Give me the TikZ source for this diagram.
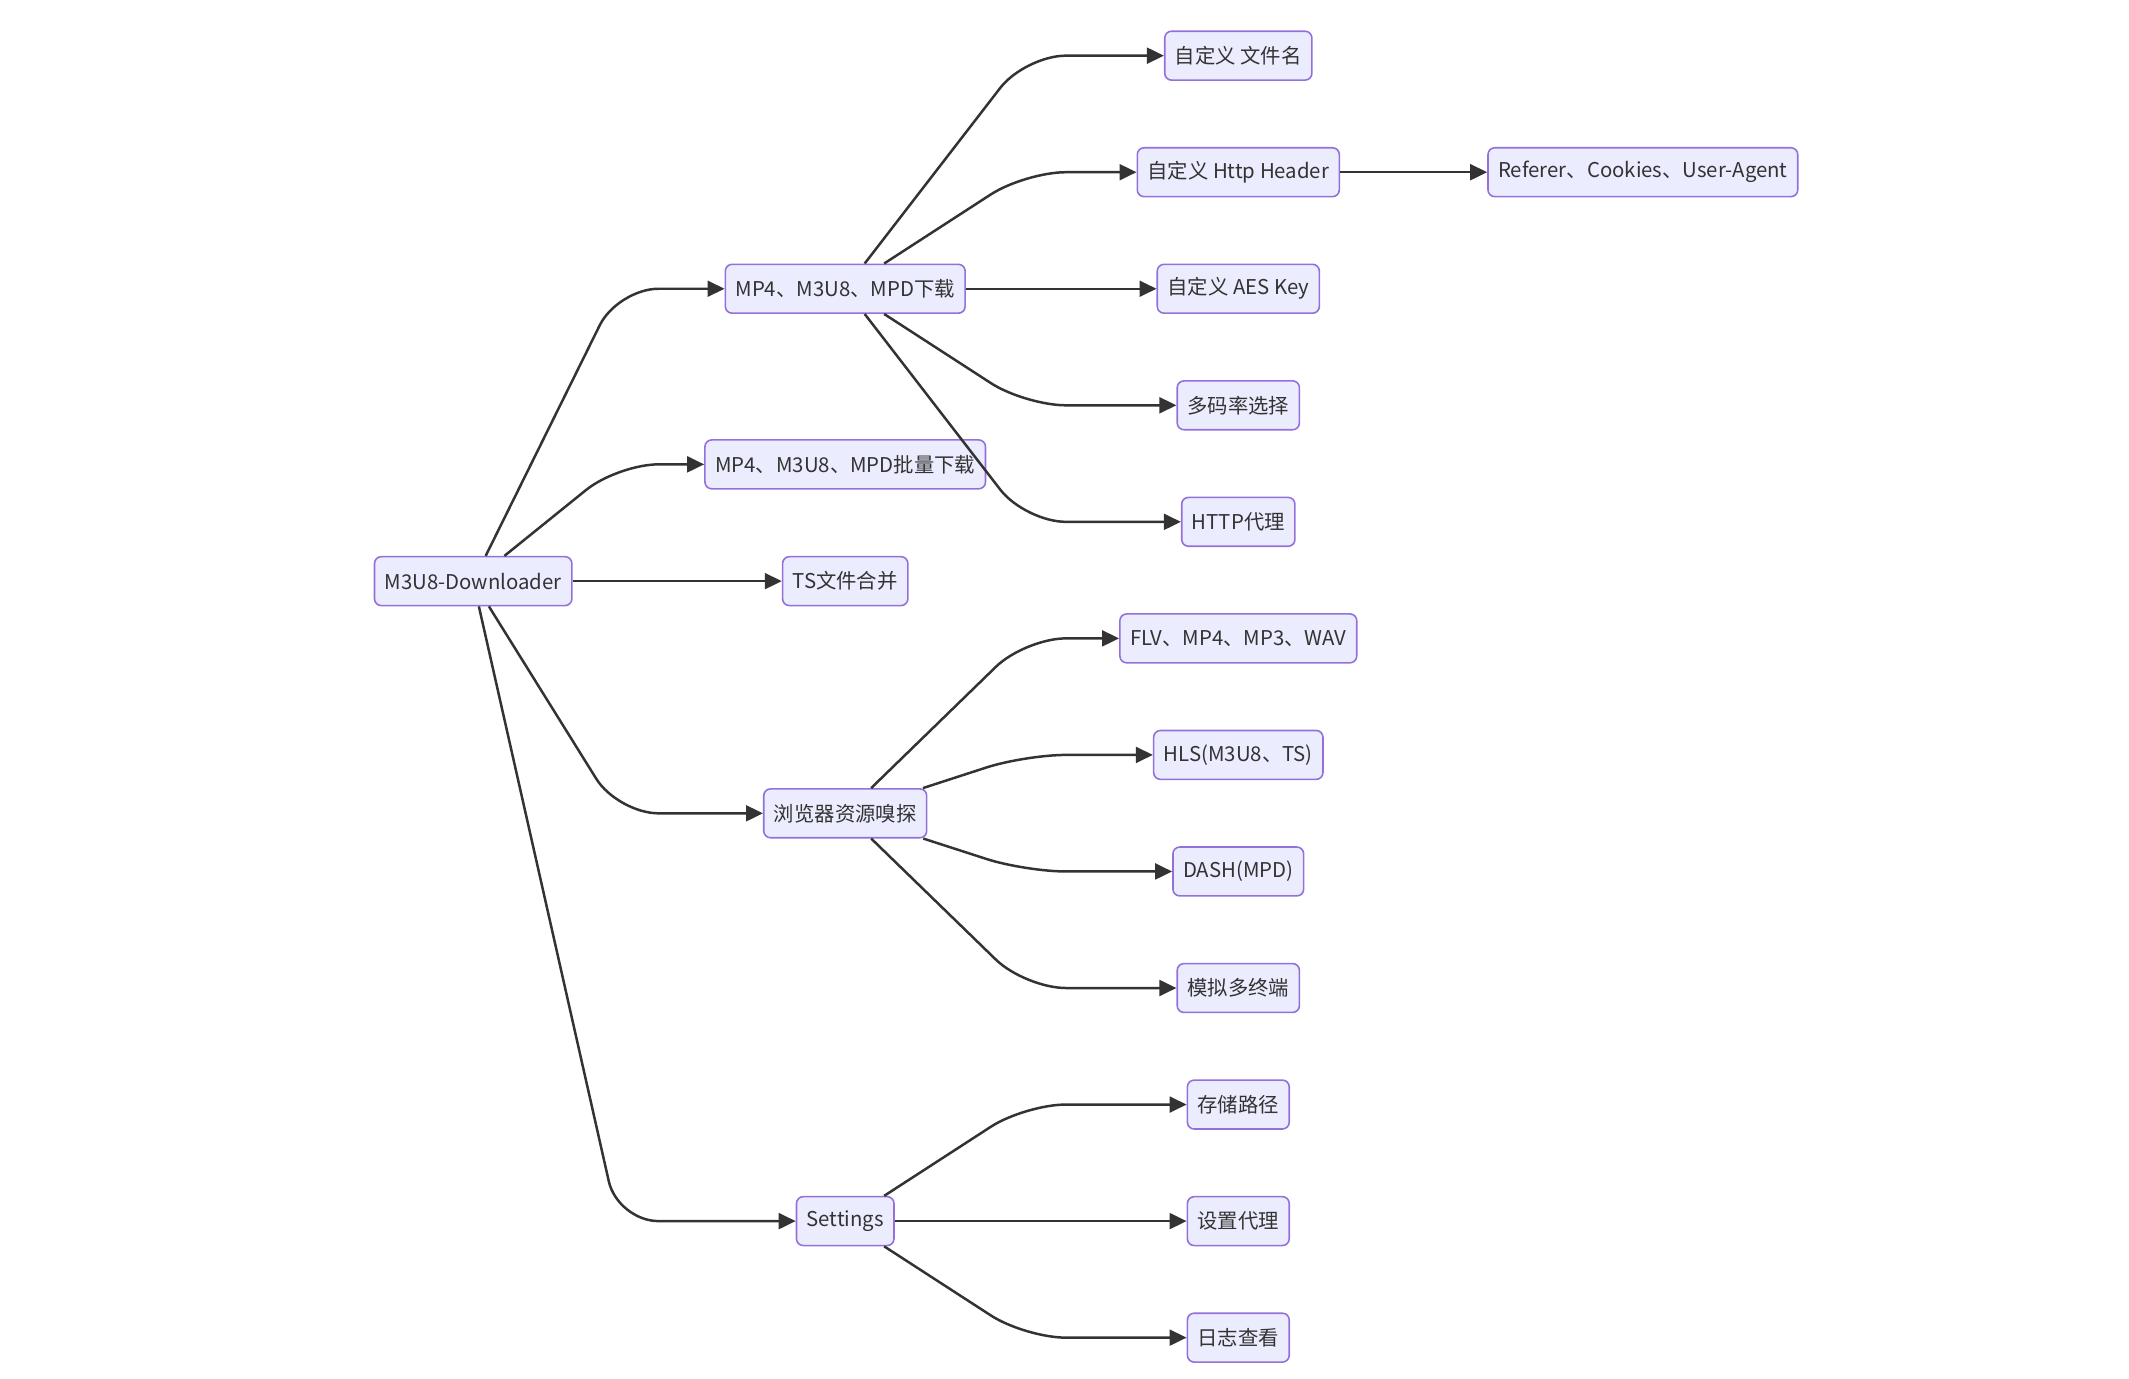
\documentclass[tikz,border=0pt]{standalone}
\usepackage{fontspec}
\setmainfont{Noto Sans CJK SC}
\usepackage{xcolor}
\usepackage{tikz}
\usetikzlibrary{arrows.meta,positioning}
\definecolor{lav}{HTML}{ECECFF}
\definecolor{purp}{HTML}{9370DB}
\definecolor{ink}{HTML}{333333}

\begin{document}
\begin{tikzpicture}[x=0.6pt,y=-0.6pt,>={Triangle[length=7.5pt,width=7pt]},node distance=29.2pt,
  box/.style={draw=purp,fill=lav,rounded corners=3pt,line width=0.7pt,minimum height=21.6pt,inner xsep=4.5pt,text=ink,font=\fontsize{9}{11}\selectfont},
  edge/.style={->,draw=ink,line width=1.1pt,rounded corners=18pt}]
\useasboundingbox (0,0) rectangle (1568,1015);
% columns and bends
\coordinate (col1) at (622.5,0);
\coordinate (bendA) at (455,0);
\coordinate (bendB) at (755,0);
% right column
\node[box] (fname) at (912,41) {自定义 文件名};
\node[box,below=of fname] (header) {自定义 Http Header};
\node[box,below=of header] (aeskey) {自定义 AES Key};
\node[box,below=of aeskey] (bitrate) {多码率选择};
\node[box,below=of bitrate] (proxy) {HTTP代理};
\node[box,below=of proxy] (formats) {FLV、MP4、MP3、WAV};
\node[box,below=of formats] (hls) {HLS(M3U8、TS)};
\node[box,below=of hls] (dash) {DASH(MPD)};
\node[box,below=of dash] (terminal) {模拟多终端};
\node[box,below=of terminal] (savepath) {存储路径};
\node[box,below=of savepath] (setproxy) {设置代理};
\node[box,below=of setproxy] (logview) {日志查看};
\node[box,right=65pt of header] (reqinfo) {Referer、Cookies、User-Agent};
% middle column
\node[box] (root) at (348.5,428) {M3U8-Downloader};
\node[box] (single) at (col1 |- aeskey) {MP4、M3U8、MPD下载};
\node[box] (batch) at (622.5,342) {MP4、M3U8、MPD批量下载};
\node[box] (merge) at (622.5,428) {TS文件合并};
\node[box] (sniff) at (622.5,599) {浏览器资源嗅探};
\node[box] (settings) at (col1 |- setproxy) {Settings};
% edges from root
\draw[edge] (root) -- (single -| bendA) -- (single);
\draw[edge] (root) -- (batch -| bendA) -- (batch);
\draw[edge] (root) -- (merge);
\draw[edge] (root) -- (sniff -| bendA) -- (sniff);
\draw[edge] (root) -- (settings -| bendA) -- (settings);
% download
\draw[edge] (single) -- (fname -| bendB) -- (fname);
\draw[edge] (single) -- (header -| bendB) -- (header);
\draw[edge] (single) -- (aeskey);
\draw[edge] (single) -- (bitrate -| bendB) -- (bitrate);
\draw[edge] (single) -- (proxy -| bendB) -- (proxy);
\draw[edge] (header) -- (reqinfo);
% sniffing
\draw[edge] (sniff) -- (formats -| bendB) -- (formats);
\draw[edge] (sniff) -- (hls -| bendB) -- (hls);
\draw[edge] (sniff) -- (dash -| bendB) -- (dash);
\draw[edge] (sniff) -- (terminal -| bendB) -- (terminal);
% settings
\draw[edge] (settings) -- (savepath -| bendB) -- (savepath);
\draw[edge] (settings) -- (setproxy);
\draw[edge] (settings) -- (logview -| bendB) -- (logview);
\end{tikzpicture}
\end{document}
